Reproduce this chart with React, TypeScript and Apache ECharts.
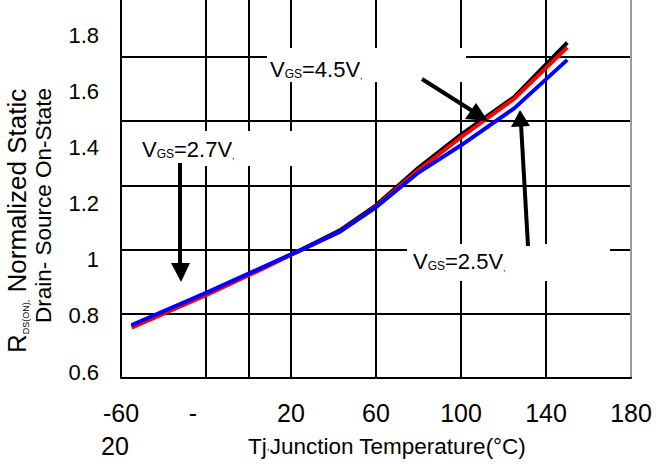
import React, { useEffect, useRef } from "react";
import * as echarts from "echarts";

// Junction temperature (°C)
const temps = [-55, -20, 5, 25, 43, 60, 80, 100, 125, 150];
// Normalized RDS(ON)
const vgs45 = [0.762, 0.862, 0.938, 1.0, 1.06, 1.138, 1.255, 1.358, 1.475, 1.645]; // black
const vgs27 = [0.757, 0.858, 0.935, 1.0, 1.056, 1.134, 1.248, 1.35, 1.47, 1.63]; // red
const vgs25 = [0.765, 0.865, 0.94, 1.0, 1.056, 1.132, 1.24, 1.325, 1.44, 1.591]; // blue

const xTicks = [-60, -20, 20, 60, 100, 140, 180];
const yTickLabels = ["0.6", "0.8", "1", "1.2", "1.4", "1.6", "1.8"];

const FONT = "'Liberation Sans', Arial, sans-serif";

function pairs(ys: number[]) {
  return temps.map((t, i) => [t, ys[i]]);
}

function vgsText(v: string) {
  return {
    text: `{v|V}{s|GS}{n|=${v}V}{c|,}`,
    rich: {
      v: { fontSize: 22, fontFamily: FONT, verticalAlign: "bottom", fill: "#000" },
      s: { fontSize: 12, fontFamily: FONT, verticalAlign: "bottom", fill: "#000" },
      n: { fontSize: 22, fontFamily: FONT, verticalAlign: "bottom", fill: "#000" },
      c: { fontSize: 9, fontFamily: FONT, verticalAlign: "bottom", fill: "#000" },
    },
  };
}

export default function App() {
  const ref = useRef<HTMLDivElement>(null);
  useEffect(() => {
    if (!ref.current) return;
    const chart = echarts.init(ref.current, null, { renderer: "svg" });
    const lineStyle = (c: string) => ({ color: c, width: 4 });
    chart.setOption({
      animation: false,
      backgroundColor: "#fff",
      grid: [
        { left: 121, right: 36, top: -7.2, bottom: 95, outerBoundsMode: "none", containLabel: false },
        { left: 121, right: 36, top: 35, bottom: 101, outerBoundsMode: "none", containLabel: false },
      ],
      xAxis: [
        {
          type: "value",
          gridIndex: 0,
          min: -60,
          max: 180,
          interval: 40,
          axisLine: { show: true, lineStyle: { color: "#000", width: 2 } },
          axisTick: { show: false },
          splitLine: {
            show: true,
            lineStyle: {
              color: ["#000", "#000", "#000", "#000", "#000", "#000", "#9a9a9a"],
              width: 2,
            },
          },
          axisLabel: {
            margin: 18,
            fontSize: 25,
            lineHeight: 33,
            fontFamily: FONT,
            color: "#000",
            formatter: (v: number) => {
              const i = xTicks.indexOf(v);
              if (v === -20) return "{m|-}";
              if (v === -60) return "-60\n{l|20}";
              return i >= 0 ? String(xTicks[i]) : "";
            },
            rich: {
              m: { fontSize: 25, lineHeight: 33, fontFamily: FONT, padding: [0, 26, 0, 0] },
              l: { fontSize: 25, lineHeight: 33, fontFamily: FONT, padding: [0, 12, 0, 0] },
            },
          },
          name: "{a|Tj}{b|,}{a|Junction Temperature(°C)}",
          nameLocation: "middle",
          nameGap: 53,
          nameMoveOverlap: false,
          nameTextStyle: {
            padding: [0, 0, 0, 22],
            rich: {
              a: { fontSize: 22.5, lineHeight: 30, fontFamily: FONT, color: "#000" },
              b: { fontSize: 10, lineHeight: 30, fontFamily: FONT, color: "#000" },
            },
          },
        },
        {
          type: "value",
          gridIndex: 1,
          min: -60,
          max: 180,
          show: false,
        },
      ],
      yAxis: [
        {
          type: "value",
          gridIndex: 0,
          min: 0.6,
          max: 1.8,
          interval: 0.2,
          axisLine: { show: true, lineStyle: { color: "#000", width: 2 } },
          axisTick: { show: false },
          axisLabel: { show: false },
          splitLine: { show: true, lineStyle: { color: "#000", width: 2 } },
        },
        {
          type: "value",
          gridIndex: 1,
          min: 0.6,
          max: 1.8,
          interval: 0.2,
          axisLine: { show: false },
          axisTick: { show: false },
          splitLine: { show: false },
          axisLabel: {
            margin: 22,
            fontSize: 22,
            fontFamily: FONT,
            color: "#000",
            formatter: (v: number) => {
              const i = Math.round((v - 0.6) / 0.2);
              return yTickLabels[i] ?? "";
            },
          },
        },
      ],
      series: [
        {
          name: "VGS=4.5V",
          type: "line",
          xAxisIndex: 0,
          yAxisIndex: 0,
          symbol: "none",
          data: pairs(vgs45),
          lineStyle: lineStyle("#000000"),
          z: 3,
        },
        {
          name: "VGS=2.7V",
          type: "line",
          xAxisIndex: 0,
          yAxisIndex: 0,
          symbol: "none",
          data: pairs(vgs27),
          lineStyle: lineStyle("#ff0000"),
          z: 4,
        },
        {
          name: "VGS=2.5V",
          type: "line",
          xAxisIndex: 0,
          yAxisIndex: 0,
          symbol: "none",
          data: pairs(vgs25),
          lineStyle: lineStyle("#0000ff"),
          z: 5,
        },
      ],
      graphic: [
        // white label boxes
        { type: "rect", z: 50, shape: { x: 267, y: 48, width: 199, height: 34 }, style: { fill: "#fff" } },
        { type: "rect", z: 50, shape: { x: 130, y: 131, width: 220, height: 35 }, style: { fill: "#fff" } },
        { type: "rect", z: 50, shape: { x: 407, y: 244, width: 203, height: 37 }, style: { fill: "#fff" } },
        // annotation texts
        { type: "text", z: 51, x: 270, y: 80, style: { ...vgsText("4.5"), align: "left", verticalAlign: "bottom" } },
        { type: "text", z: 51, x: 142, y: 160, style: { ...vgsText("2.7"), align: "left", verticalAlign: "bottom" } },
        { type: "text", z: 51, x: 413, y: 272, style: { ...vgsText("2.5"), align: "left", verticalAlign: "bottom" } },
        // arrows
        { type: "line", z: 52, shape: { x1: 422, y1: 79, x2: 474, y2: 112 }, style: { stroke: "#000", lineWidth: 4 } },
        { type: "polygon", z: 52, shape: { points: [[465, 119], [476, 103], [488, 121]] }, style: { fill: "#000" } },
        { type: "line", z: 52, shape: { x1: 528, y1: 246, x2: 521, y2: 124 }, style: { stroke: "#000", lineWidth: 4 } },
        { type: "polygon", z: 52, shape: { points: [[511, 127], [520, 110], [530, 126]] }, style: { fill: "#000" } },
        { type: "line", z: 52, shape: { x1: 180, y1: 163, x2: 180, y2: 266 }, style: { stroke: "#000", lineWidth: 4 } },
        { type: "polygon", z: 52, shape: { points: [[171, 263], [190, 263], [181, 282]] }, style: { fill: "#000" } },
        // y-axis title (rotated)
        {
          type: "text",
          z: 51,
          x: 30,
          y: 353,
          rotation: Math.PI / 2,
          style: {
            text: "{a|R}{s|DS(ON),}{a| Normalized Static}",
            align: "left",
            verticalAlign: "bottom",
            rich: {
              a: { fontSize: 26, fontFamily: FONT, fill: "#000", verticalAlign: "bottom" },
              s: { fontSize: 9, fontFamily: FONT, fill: "#000", verticalAlign: "bottom" },
            },
          },
        },
        {
          type: "text",
          z: 51,
          x: 55,
          y: 323,
          rotation: Math.PI / 2,
          style: {
            text: "Drain- Source On-State",
            align: "left",
            verticalAlign: "bottom",
            fontSize: 22.5,
            fontFamily: FONT,
            fill: "#000",
          },
        },
      ],
    });
    return () => chart.dispose();
  }, []);
  return (
    <div
      ref={ref}
      style={{ position: "fixed", left: 0, top: 0, width: 667, height: 473, background: "#fff" }}
    />
  );
}
